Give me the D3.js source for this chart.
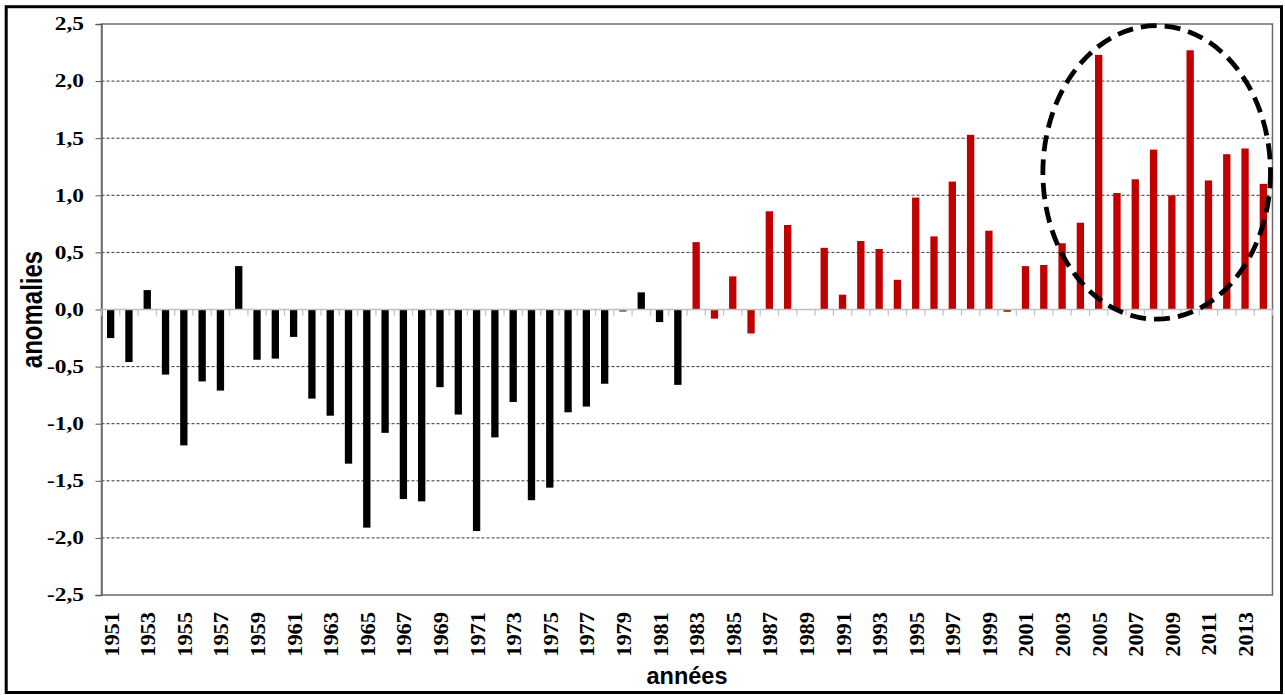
<!DOCTYPE html>
<html>
<head>
<meta charset="utf-8">
<script src="https://cdn.jsdelivr.net/npm/d3@7/dist/d3.min.js"></script>
<style>
  html, body { margin: 0; padding: 0; background: #fff; }
  svg { display: block; }
</style>
</head>
<body>
<svg id="chart" width="1285" height="695"></svg>
<script>
// ---- data ----
const years = [1951,1952,1953,1954,1955,1956,1957,1958,1959,1960,
  1961,1962,1963,1964,1965,1966,1967,1968,1969,1970,
  1971,1972,1973,1974,1975,1976,1977,1978,1979,1980,
  1981,1982,1983,1984,1985,1986,1987,1988,1989,1990,
  1991,1992,1993,1994,1995,1996,1997,1998,1999,2000,
  2001,2002,2003,2004,2005,2006,2007,2008,2009,2010,
  2011,2012,2013,2014];
const anomalies = [-0.25,-0.46,0.17,-0.57,-1.19,-0.63,-0.71,0.38,-0.44,-0.43,
  -0.24,-0.78,-0.93,-1.35,-1.91,-1.08,-1.66,-1.68,-0.68,-0.92,
  -1.94,-1.12,-0.81,-1.67,-1.56,-0.90,-0.85,-0.65,-0.02,0.15,
  -0.11,-0.66,0.59,-0.08,0.29,-0.21,0.86,0.74,0.00,0.54,
  0.13,0.60,0.53,0.26,0.98,0.64,1.12,1.53,0.69,-0.02,
  0.38,0.39,0.58,0.76,2.23,1.02,1.14,1.40,1.00,2.27,
  1.13,1.36,1.41,1.10];
const yTicks = [2.5,2.0,1.5,1.0,0.5,0.0,-0.5,-1.0,-1.5,-2.0,-2.5];
const xTickLabels = [1951,1953,1955,1957,1959,1961,1963,1965,1967,1969,1971,1973,1975,1977,1979,
  1981,1983,1985,1987,1989,1991,1993,1995,1997,1999,2001,2003,2005,2007,2009,2011,2013];
const yTitle = "anomalies";
const xTitle = "années";
// highlighted period (ellipse), in data units
const highlightCenterYear = 2008.17, highlightCenterValue = 1.2;
const highlightHalfYears = 6.22, highlightHalfValue = 1.285;

// ---- layout ----
const W = 1285, H = 695;
const plot = { left: 101.5, right: 1272.5, top: 24, bottom: 595 };
const svg = d3.select("#chart");

const x = d3.scaleBand().domain(years).range([plot.left, plot.right])
  .paddingInner(0.6).paddingOuter(0.3);
const y = d3.scaleLinear().domain([-2.5, 2.5]).range([plot.bottom, plot.top]);
const step = x.step(), bw = x.bandwidth();
const cx = yr => x(yr) + bw / 2;
const yearPos = yr => cx(years[0]) + (yr - years[0]) * step;

const fmt = v => d3.format(".1f")(v).replace(".", ",").replace("−", "-");

// outer frame
svg.append("rect").attr("x", 6.2).attr("y", 6.7).attr("width", 1275.3).attr("height", 685.8)
  .attr("fill", "none").attr("stroke", "#000").attr("stroke-width", 3);

// gridlines (dashed)
svg.append("g").selectAll("line")
  .data(yTicks.filter(v => v !== 0 && Math.abs(v) !== 2.5))
  .join("line")
  .attr("x1", plot.left).attr("x2", plot.right)
  .attr("y1", d => y(d)).attr("y2", d => y(d))
  .attr("stroke", "#333").attr("stroke-width", 1).attr("stroke-dasharray", "3,2");

// plot border
svg.append("rect").attr("x", plot.left).attr("y", plot.top)
  .attr("width", plot.right - plot.left).attr("height", plot.bottom - plot.top)
  .attr("fill", "none").attr("stroke", "#6b6b6b").attr("stroke-width", 1.5);

// y axis with ticks
const yAxis = d3.axisLeft(y).tickValues(yTicks).tickSize(6).tickFormat("");
const gy = svg.append("g").attr("transform", `translate(${plot.left},0)`).call(yAxis);
gy.select(".domain").attr("stroke", "#6b6b6b").attr("stroke-width", 1.5);
gy.selectAll(".tick line").attr("stroke", "#555");

// y tick labels
svg.append("g").selectAll("text").data(yTicks).join("text")
  .attr("transform", d => `translate(84,${y(d)}) scale(1.3,1)`)
  .attr("dy", "0.35em").attr("text-anchor", "end")
  .attr("font-family", "'Liberation Serif', 'Times New Roman', serif")
  .attr("font-weight", "bold").attr("font-size", 18).attr("fill", "#000")
  .text(d => fmt(d));

// bars
const colorOf = (yr) => yr === 1979 ? "#4a6fb5" : (yr >= 1983 ? "#c00000" : "#000000");
svg.append("g").selectAll("rect").data(years.map((yr, i) => ({ yr, v: anomalies[i] })))
  .join("rect")
  .attr("x", d => x(d.yr)).attr("width", bw)
  .attr("y", d => y(Math.max(0, d.v)))
  .attr("height", d => Math.abs(y(d.v) - y(0)))
  .attr("fill", d => colorOf(d.yr));

// zero line
svg.append("line").attr("x1", plot.left).attr("x2", plot.right)
  .attr("y1", y(0)).attr("y2", y(0)).attr("stroke", "#bfbfbf").attr("stroke-width", 1.5);

// category boundary ticks on zero line
const bounds = years.map(yr => cx(yr) - step / 2).concat([cx(years[years.length - 1]) + step / 2]);
svg.append("g").selectAll("line").data(bounds).join("line")
  .attr("x1", d => d).attr("x2", d => d)
  .attr("y1", y(0)).attr("y2", y(0) + 6)
  .attr("stroke", "#bfbfbf").attr("stroke-width", 1.2);

// x tick labels
svg.append("g").selectAll("text").data(xTickLabels).join("text")
  .attr("transform", d => `translate(${cx(d) + 1},612) rotate(-90) scale(1.12,1)`)
  .attr("dy", "0.35em").attr("text-anchor", "end")
  .attr("font-family", "'Liberation Serif', 'Times New Roman', serif")
  .attr("font-weight", "bold").attr("font-size", 20).attr("fill", "#000")
  .text(d => d);

// axis titles
svg.append("text")
  .attr("transform", `translate(42,${(plot.top + plot.bottom) / 2}) rotate(-90) scale(1,1.2)`)
  .attr("text-anchor", "middle")
  .attr("font-family", "'Liberation Sans', Arial, sans-serif")
  .attr("font-weight", "bold").attr("font-size", 24).attr("fill", "#000")
  .text(yTitle);
svg.append("text")
  .attr("x", (plot.left + plot.right) / 2).attr("y", 684)
  .attr("text-anchor", "middle")
  .attr("font-family", "'Liberation Sans', Arial, sans-serif")
  .attr("font-weight", "bold").attr("font-size", 23.5).attr("fill", "#000")
  .text(xTitle);

// highlight ellipse
svg.append("ellipse")
  .attr("cx", yearPos(highlightCenterYear))
  .attr("cy", y(highlightCenterValue))
  .attr("rx", highlightHalfYears * step)
  .attr("ry", Math.abs(y(highlightHalfValue) - y(0)))
  .attr("fill", "none").attr("stroke", "#000").attr("stroke-width", 4.8)
  .attr("stroke-dasharray", "16,8");
</script>
</body>
</html>
